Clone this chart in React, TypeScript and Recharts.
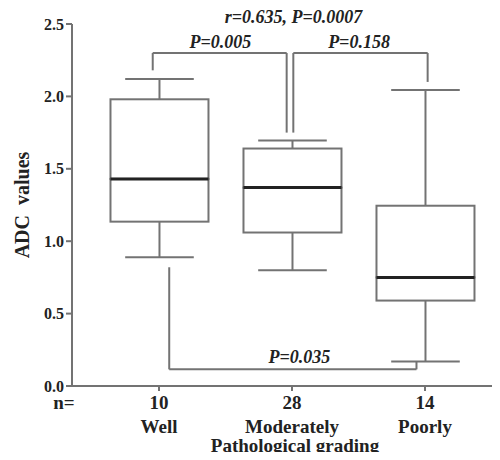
import React from 'react';
import { ComposedChart, Bar, XAxis, YAxis, ReferenceLine, ReferenceDot } from 'recharts';

// box plot values
const groups = ['Well', 'Moderately', 'Poorly'];
const counts = [10, 28, 14];
const positions = [1, 2, 3];
const mins = [0.89, 0.8, 0.17];
const q1s = [1.135, 1.06, 0.59];
const medians = [1.43, 1.37, 0.75];
const q3s = [1.98, 1.64, 1.245];
const maxs = [2.12, 1.695, 2.045];
const yTicks = [0, 0.5, 1, 1.5, 2, 2.5];

// significance brackets (x in group units, y in ADC units)
const bracketPaths = [
  [[0.953, 2.18], [0.953, 2.3], [1.96, 2.3], [1.96, 1.75]],
  [[2.01, 1.75], [2.01, 2.3], [3.02, 2.3], [3.02, 2.1]],
  [[1.077, 0.82], [1.077, 0.115], [2.936, 0.115], [2.936, 0.17]],
];
const pLabels = ['r=0.635, P=0.0007', 'P=0.005', 'P=0.158', 'P=0.035'];
const pLabelX = [2.011, 1.462, 2.504, 2.056];
const pLabelY = [2.55, 2.379, 2.379, 0.2025];

const FONT = "'Liberation Serif', 'Times New Roman', serif";
const GRAY = '#737373';
const INK = '#222';

const data = positions.map((pos, i) => ({
  pos,
  base: mins[i],
  lowW: q1s[i] - mins[i],
  lowBox: medians[i] - q1s[i],
  highBox: q3s[i] - medians[i],
  highW: maxs[i] - q3s[i],
}));

const LowWhisker = (p: any) => {
  const cx = p.x + p.width / 2;
  const half = p.width * 0.35;
  const yb = p.y + p.height;
  return (
    <g>
      <line x1={cx} x2={cx} y1={p.y} y2={yb} stroke={GRAY} strokeWidth={2} />
      <line x1={cx - half} x2={cx + half} y1={yb} y2={yb} stroke={GRAY} strokeWidth={2} />
    </g>
  );
};

const HighWhisker = (p: any) => {
  const cx = p.x + p.width / 2;
  const half = p.width * 0.35;
  return (
    <g>
      <line x1={cx} x2={cx} y1={p.y} y2={p.y + p.height} stroke={GRAY} strokeWidth={2} />
      <line x1={cx - half} x2={cx + half} y1={p.y} y2={p.y} stroke={GRAY} strokeWidth={2} />
    </g>
  );
};

const BoxPart = (p: any) => (
  <rect x={p.x} y={p.y} width={p.width} height={p.height} fill="none" stroke={GRAY} strokeWidth={2} />
);

const UpperBox = (p: any) => (
  <g>
    <rect x={p.x} y={p.y} width={p.width} height={p.height} fill="none" stroke={GRAY} strokeWidth={2} />
    <line x1={p.x} x2={p.x + p.width} y1={p.y + p.height} y2={p.y + p.height} stroke={INK} strokeWidth={3} />
  </g>
);

const GroupTick = (props: any) => {
  const { x, y, payload, index } = props;
  const i = positions.indexOf(payload.value);
  return (
    <g fontFamily={FONT} fontWeight="bold" fontSize={19} fill={INK}>
      {index === 0 && (
        <text x={x - 95} y={y + 15} textAnchor="middle">n=</text>
      )}
      <text x={x} y={y + 15} textAnchor="middle">{counts[i]}</text>
      <text x={x} y={y + 39} textAnchor="middle">{groups[i]}</text>
    </g>
  );
};

const App = () => {
  return (
    <div style={{ width: 500, height: 460, margin: -8, background: '#fff' }}>
      <ComposedChart width={500} height={460} data={data} margin={{ top: 24, right: 0, bottom: 24, left: 12 }}>
        <XAxis
          dataKey="pos"
          type="number"
          domain={[0.346, 3.564]}
          ticks={positions}
          allowDataOverflow
          height={50}
          stroke={GRAY}
          strokeWidth={2}
          tickSize={5}
          tickMargin={3}
          tick={<GroupTick />}
          label={{
            value: 'Pathological grading',
            position: 'bottom',
            offset: 0,
            dx: 9,
            dy: 3,
            fill: INK,
            fontSize: 19,
            fontWeight: 'bold',
            fontFamily: FONT,
          }}
        />
        <YAxis
          type="number"
          domain={[0, 2.5]}
          ticks={yTicks}
          width={60}
          stroke={GRAY}
          strokeWidth={2}
          tickSize={6}
          tickMargin={2}
          tickFormatter={(v: number) => v.toFixed(1)}
          tick={{ fill: INK, fontSize: 16, fontWeight: 'bold', fontFamily: FONT }}
          label={{
            value: 'ADC\u00A0\u00A0values',
            angle: -90,
            position: 'center',
            dx: -20,
            fill: INK,
            fontSize: 20,
            fontWeight: 'bold',
            fontFamily: FONT,
          }}
        />
        <Bar dataKey="base" stackId="box" barSize={98} fill="none" isAnimationActive={false} />
        <Bar dataKey="lowW" stackId="box" barSize={98} shape={LowWhisker} isAnimationActive={false} />
        <Bar dataKey="lowBox" stackId="box" barSize={98} shape={BoxPart} isAnimationActive={false} />
        <Bar dataKey="highBox" stackId="box" barSize={98} shape={UpperBox} isAnimationActive={false} />
        <Bar dataKey="highW" stackId="box" barSize={98} shape={HighWhisker} isAnimationActive={false} />
        {bracketPaths.map((path, b) =>
          path.slice(1).map((pt, k) => (
            <ReferenceLine
              key={`br-${b}-${k}`}
              segment={[
                { x: path[k][0], y: path[k][1] },
                { x: pt[0], y: pt[1] },
              ]}
              stroke={GRAY}
              strokeWidth={2}
              ifOverflow="visible"
            />
          ))
        )}
        {pLabels.map((txt, i) => (
          <ReferenceDot
            key={txt}
            x={pLabelX[i]}
            y={pLabelY[i]}
            r={1}
            fill="none"
            stroke="none"
            ifOverflow="visible"
            label={{
              value: txt,
              position: 'center',
              fill: INK,
              fontSize: 18,
              fontStyle: 'italic',
              fontWeight: 'bold',
              fontFamily: FONT,
            }}
          />
        ))}
      </ComposedChart>
    </div>
  );
};

export default App;
